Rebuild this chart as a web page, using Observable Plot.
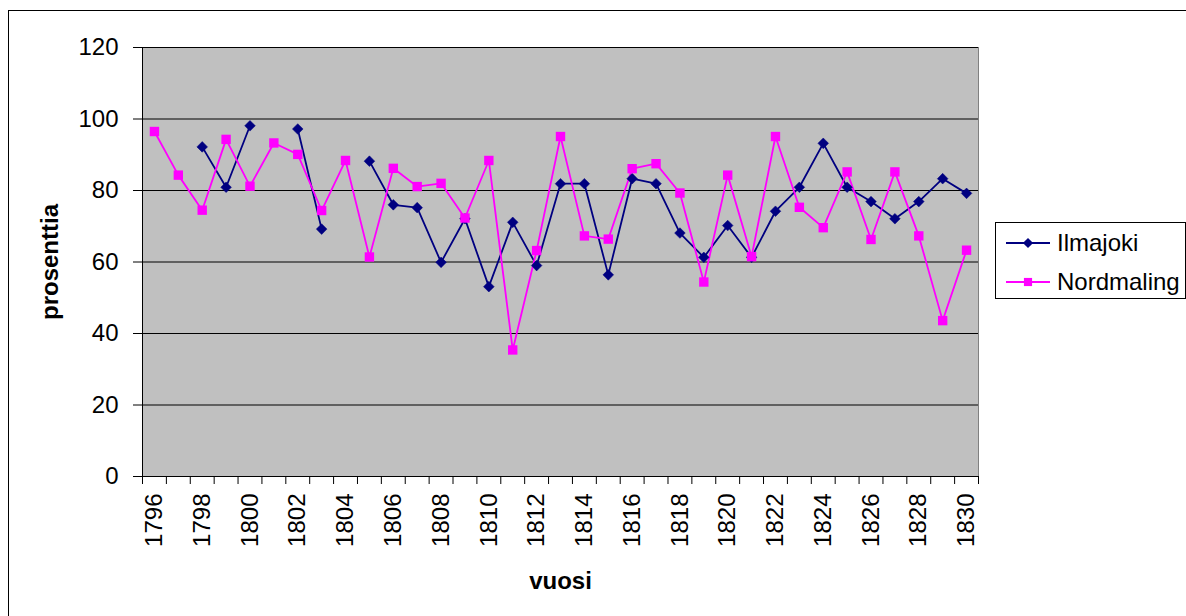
<!DOCTYPE html>
<html><head><meta charset="utf-8">
<script src="https://cdn.jsdelivr.net/npm/d3@7"></script>
<script src="https://cdn.jsdelivr.net/npm/@observablehq/plot@0.6"></script>
<style>
html,body{margin:0;padding:0;background:#fff;overflow:hidden;}
#wrap{position:relative;width:1186px;height:616px;font-family:Arial,"Liberation Sans",sans-serif;overflow:hidden;}
#frame{position:absolute;left:8px;top:10px;width:1200px;height:700px;border:1px solid #000;box-sizing:border-box;}
#chart{position:absolute;left:0;top:0;}
#legend{position:absolute;left:995px;top:222px;width:191px;height:77px;border:1px solid #000;box-sizing:border-box;background:#fff;}
</style></head><body>
<div id="wrap"><div id="frame"></div><div id="chart"></div><div id="legend"></div></div>
<script>
const years = [1796,1797,1798,1799,1800,1801,1802,1803,1804,1805,1806,1807,1808,1809,1810,1811,1812,1813,1814,1815,1816,1817,1818,1819,1820,1821,1822,1823,1824,1825,1826,1827,1828,1829,1830];
const ilmajoki = [null,null,92.2,80.9,98.1,null,97.2,69.2,null,88.2,76.0,75.2,59.9,72.1,53.1,71.1,59.0,81.9,81.9,56.4,83.3,81.9,68.1,61.3,70.2,61.3,74.2,80.9,93.2,80.9,76.9,72.1,76.9,83.3,79.2];
const nordmaling = [96.5,84.3,74.5,94.3,81.2,93.3,90.1,74.4,88.4,61.4,86.2,81.1,82.0,72.3,88.4,35.4,63.2,95.1,67.3,66.4,86.1,87.5,79.3,54.4,84.3,61.5,95.1,75.3,69.6,85.2,66.3,85.2,67.3,43.6,63.3];
const xLabels = [1796,1798,1800,1802,1804,1806,1808,1810,1812,1814,1816,1818,1820,1822,1824,1826,1828,1830];
const yTicks = [0,20,40,60,80,100,120];
const seriesNames = ["Ilmajoki","Nordmaling"];
const seriesColors = ["#000080","#ff00ff"];
const yTitle = "prosenttia";
const xTitle = "vuosi";

const rows = (vals, name) => years.map((y,i)=>({year:y, value:vals[i], series:name}));
const il = rows(ilmajoki, seriesNames[0]);
const no = rows(nordmaling, seriesNames[1]);
const boundaries = years.map(y=>y-0.5).concat([years[years.length-1]+0.5]);
const font = 'Arial,"Liberation Sans",sans-serif';

const chart = Plot.plot({
  width:1186, height:616,
  marginLeft:142, marginRight:208, marginTop:47, marginBottom:140,
  style:{fontFamily:font, fontSize:"24px", color:"#000", background:"transparent", overflow:"visible"},
  x:{type:"linear", domain:[boundaries[0], boundaries[boundaries.length-1]]},
  y:{domain:[0,120]},
  marks:[
    Plot.frame({fill:"#c0c0c0", stroke:"#808080"}),
    Plot.ruleY(yTicks.filter(v=>v>0), {stroke:"#000", strokeWidth:1}),
    Plot.ruleX([boundaries[0]], {stroke:"#000"}),
    Plot.ruleY([0], {stroke:"#000"}),
    Plot.axisY(yTicks, {tickSize:9, tickPadding:15, fontSize:24, label:null, tickFormat:d=>String(d)}),
    Plot.axisX(boundaries, {tickSize:8, tickFormat:()=>"", label:null}),
    Plot.axisX(xLabels, {tickSize:0, tickPadding:17, tickRotate:-90, fontSize:24, label:null, tickFormat:d=>String(d)}),
    Plot.line(il, {x:"year", y:"value", stroke:seriesColors[0], strokeWidth:1.8}),
    Plot.line(no, {x:"year", y:"value", stroke:seriesColors[1], strokeWidth:1.8}),
    Plot.dot(il, {x:"year", y:"value", symbol:"diamond2", r:4.8, fill:seriesColors[0], stroke:seriesColors[0], strokeWidth:0.5}),
    Plot.dot(no, {x:"year", y:"value", symbol:"square", r:5.3, fill:seriesColors[1]}),
    Plot.text([yTitle], {text:d=>d, frameAnchor:"left", dx:-92, rotate:-90, textAnchor:"middle", fontWeight:"bold", fontSize:24}),
    Plot.text([xTitle], {text:d=>d, frameAnchor:"bottom", dy:112, fontWeight:"bold", fontSize:24})
  ]
});
document.getElementById("chart").appendChild(chart);

// legend
const lg = d3.select("#legend").append("svg").attr("width",189).attr("height",75)
  .style("font-family", font);
const rowsY = [20, 59];
seriesNames.forEach((name,i)=>{
  const g = lg.append("g").attr("transform",`translate(0,${rowsY[i]})`);
  g.append("line").attr("x1",10).attr("x2",54).attr("y1",0).attr("y2",0)
    .attr("stroke",seriesColors[i]).attr("stroke-width",1.8);
  const sym = i===0 ? d3.symbolDiamond2 : d3.symbolSquare;
  const size = Math.PI*4.6*4.6;
  g.append("path").attr("d", d3.symbol(sym, size)()).attr("transform","translate(32,0)").attr("fill",seriesColors[i]);
  g.append("text").attr("x",61).attr("y",0).attr("dy","0.35em").attr("font-size",24).attr("fill","#000").text(name);
});
</script>
</body></html>
